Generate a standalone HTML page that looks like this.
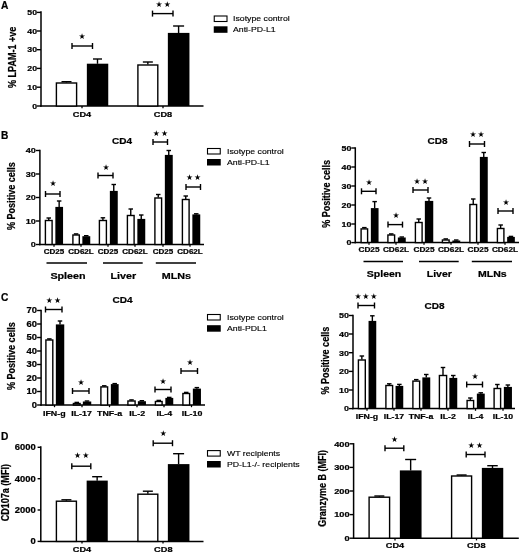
<!DOCTYPE html>
<html lang="en"><head><meta charset="utf-8"><title>Figure</title>
<style>html,body{margin:0;padding:0;background:#fff}svg{display:block;filter:blur(0.45px)}text{fill:#000}</style>
</head><body>
<svg width="520" height="553" viewBox="0 0 520 553">
<rect width="520" height="553" fill="#fff"/>
<text x="0" y="0" text-anchor="start" style="font-family:&quot;Liberation Sans&quot;,Arial,sans-serif;font-weight:bold;font-size:10.2px;stroke:#000;stroke-width:0.22px" transform="translate(1 9.2) scale(1 1)">A</text>
<line x1="41" y1="11.3" x2="41" y2="106.7" stroke="#000" stroke-width="1.5"/>
<line x1="37" y1="12.4" x2="41" y2="12.4" stroke="#000" stroke-width="1.4"/>
<text x="0" y="0" text-anchor="end" style="font-family:&quot;Liberation Sans&quot;,Arial,sans-serif;font-weight:bold;font-size:7.6px;stroke:#000;stroke-width:0.22px" transform="translate(37 15.14) scale(1.15 1)">50</text>
<line x1="37" y1="31" x2="41" y2="31" stroke="#000" stroke-width="1.4"/>
<text x="0" y="0" text-anchor="end" style="font-family:&quot;Liberation Sans&quot;,Arial,sans-serif;font-weight:bold;font-size:7.6px;stroke:#000;stroke-width:0.22px" transform="translate(37 33.74) scale(1.15 1)">40</text>
<line x1="37" y1="49.7" x2="41" y2="49.7" stroke="#000" stroke-width="1.4"/>
<text x="0" y="0" text-anchor="end" style="font-family:&quot;Liberation Sans&quot;,Arial,sans-serif;font-weight:bold;font-size:7.6px;stroke:#000;stroke-width:0.22px" transform="translate(37 52.44) scale(1.15 1)">30</text>
<line x1="37" y1="68.4" x2="41" y2="68.4" stroke="#000" stroke-width="1.4"/>
<text x="0" y="0" text-anchor="end" style="font-family:&quot;Liberation Sans&quot;,Arial,sans-serif;font-weight:bold;font-size:7.6px;stroke:#000;stroke-width:0.22px" transform="translate(37 71.14) scale(1.15 1)">20</text>
<line x1="37" y1="87.2" x2="41" y2="87.2" stroke="#000" stroke-width="1.4"/>
<text x="0" y="0" text-anchor="end" style="font-family:&quot;Liberation Sans&quot;,Arial,sans-serif;font-weight:bold;font-size:7.6px;stroke:#000;stroke-width:0.22px" transform="translate(37 89.94) scale(1.15 1)">10</text>
<line x1="37" y1="106" x2="41" y2="106" stroke="#000" stroke-width="1.4"/>
<text x="0" y="0" text-anchor="end" style="font-family:&quot;Liberation Sans&quot;,Arial,sans-serif;font-weight:bold;font-size:7.6px;stroke:#000;stroke-width:0.22px" transform="translate(37 108.74) scale(1.15 1)">0</text>
<line x1="40.3" y1="106" x2="203.5" y2="106" stroke="#000" stroke-width="1.5"/>
<line x1="82" y1="106" x2="82" y2="108.2" stroke="#000" stroke-width="1.3"/>
<line x1="163" y1="106" x2="163" y2="108.2" stroke="#000" stroke-width="1.3"/>
<line x1="66.5" y1="81.7" x2="66.5" y2="82.5" stroke="#000" stroke-width="1.4"/>
<line x1="61.5" y1="81.7" x2="71.5" y2="81.7" stroke="#000" stroke-width="1.4"/>
<rect x="56.4" y="83" width="20.2" height="23" fill="#fff" stroke="#000" stroke-width="1.4"/>
<line x1="97.5" y1="59" x2="97.5" y2="63.8" stroke="#000" stroke-width="1.4"/>
<line x1="93" y1="59" x2="102" y2="59" stroke="#000" stroke-width="1.4"/>
<rect x="86.85" y="63.7" width="21.4" height="42.3" fill="#000"/>
<line x1="147.85" y1="62" x2="147.85" y2="64.5" stroke="#000" stroke-width="1.4"/>
<line x1="142.85" y1="62" x2="152.85" y2="62" stroke="#000" stroke-width="1.4"/>
<rect x="137.9" y="65" width="19.9" height="41" fill="#fff" stroke="#000" stroke-width="1.4"/>
<line x1="178.6" y1="26" x2="178.6" y2="33" stroke="#000" stroke-width="1.4"/>
<line x1="173.1" y1="26" x2="184.1" y2="26" stroke="#000" stroke-width="1.4"/>
<rect x="167.85" y="32.9" width="21.6" height="73.1" fill="#000"/>
<line x1="72" y1="46" x2="92.5" y2="46" stroke="#000" stroke-width="1.4"/>
<line x1="72" y1="43" x2="72" y2="49" stroke="#000" stroke-width="1.4"/>
<line x1="92.5" y1="43" x2="92.5" y2="49" stroke="#000" stroke-width="1.4"/>
<text x="82" y="38.69" text-anchor="middle" style="font-family:&quot;DejaVu Sans&quot;,sans-serif;font-size:7.9px">&#9733;</text>
<line x1="152.5" y1="13.6" x2="173" y2="13.6" stroke="#000" stroke-width="1.4"/>
<line x1="152.5" y1="10.6" x2="152.5" y2="16.6" stroke="#000" stroke-width="1.4"/>
<line x1="173" y1="10.6" x2="173" y2="16.6" stroke="#000" stroke-width="1.4"/>
<text x="159" y="6.59" text-anchor="middle" style="font-family:&quot;DejaVu Sans&quot;,sans-serif;font-size:7.9px">&#9733;</text>
<text x="167.2" y="6.59" text-anchor="middle" style="font-family:&quot;DejaVu Sans&quot;,sans-serif;font-size:7.9px">&#9733;</text>
<text x="0" y="0" text-anchor="middle" style="font-family:&quot;Liberation Sans&quot;,Arial,sans-serif;font-weight:bold;font-size:8px;stroke:#000;stroke-width:0.22px" transform="translate(82 117) scale(1.15 1)">CD4</text>
<text x="0" y="0" text-anchor="middle" style="font-family:&quot;Liberation Sans&quot;,Arial,sans-serif;font-weight:bold;font-size:8px;stroke:#000;stroke-width:0.22px" transform="translate(163 117) scale(1.15 1)">CD8</text>
<text x="0" y="0" text-anchor="middle" style="font-family:&quot;Liberation Sans&quot;,Arial,sans-serif;font-weight:bold;font-size:10.4px;stroke:#000;stroke-width:0.22px" transform="translate(15.6 57.3) rotate(-90) scale(0.87 1)">% LPAM-1 +ve</text>
<rect x="214.25" y="16" width="12.75" height="5.5" fill="#fff" stroke="#000" stroke-width="1.1"/>
<rect x="213.75" y="26.3" width="13.75" height="6.5" fill="#000"/>
<text x="0" y="0" text-anchor="start" style="font-family:&quot;Liberation Sans&quot;,Arial,sans-serif;font-size:7.6px;stroke:#000;stroke-width:0.14px" transform="translate(233 21.4) scale(1.15 1)">Isotype control</text>
<text x="0" y="0" text-anchor="start" style="font-family:&quot;Liberation Sans&quot;,Arial,sans-serif;font-size:7.6px;stroke:#000;stroke-width:0.14px" transform="translate(233 32.2) scale(1.15 1)">Anti-PD-L1</text>
<text x="0" y="0" text-anchor="start" style="font-family:&quot;Liberation Sans&quot;,Arial,sans-serif;font-weight:bold;font-size:10.2px;stroke:#000;stroke-width:0.22px" transform="translate(1 138.6) scale(1 1)">B</text>
<line x1="39.9" y1="149.8" x2="39.9" y2="245.2" stroke="#000" stroke-width="1.5"/>
<line x1="35.9" y1="150.5" x2="39.9" y2="150.5" stroke="#000" stroke-width="1.4"/>
<text x="0" y="0" text-anchor="end" style="font-family:&quot;Liberation Sans&quot;,Arial,sans-serif;font-weight:bold;font-size:7.9px;stroke:#000;stroke-width:0.22px" transform="translate(35.9 153.34) scale(1.15 1)">40</text>
<line x1="35.9" y1="174" x2="39.9" y2="174" stroke="#000" stroke-width="1.4"/>
<text x="0" y="0" text-anchor="end" style="font-family:&quot;Liberation Sans&quot;,Arial,sans-serif;font-weight:bold;font-size:7.9px;stroke:#000;stroke-width:0.22px" transform="translate(35.9 176.84) scale(1.15 1)">30</text>
<line x1="35.9" y1="197.5" x2="39.9" y2="197.5" stroke="#000" stroke-width="1.4"/>
<text x="0" y="0" text-anchor="end" style="font-family:&quot;Liberation Sans&quot;,Arial,sans-serif;font-weight:bold;font-size:7.9px;stroke:#000;stroke-width:0.22px" transform="translate(35.9 200.34) scale(1.15 1)">20</text>
<line x1="35.9" y1="221" x2="39.9" y2="221" stroke="#000" stroke-width="1.4"/>
<text x="0" y="0" text-anchor="end" style="font-family:&quot;Liberation Sans&quot;,Arial,sans-serif;font-weight:bold;font-size:7.9px;stroke:#000;stroke-width:0.22px" transform="translate(35.9 223.84) scale(1.15 1)">10</text>
<line x1="35.9" y1="244.5" x2="39.9" y2="244.5" stroke="#000" stroke-width="1.4"/>
<text x="0" y="0" text-anchor="end" style="font-family:&quot;Liberation Sans&quot;,Arial,sans-serif;font-weight:bold;font-size:7.9px;stroke:#000;stroke-width:0.22px" transform="translate(35.9 247.34) scale(1.15 1)">0</text>
<line x1="39.2" y1="244.5" x2="204" y2="244.5" stroke="#000" stroke-width="1.5"/>
<line x1="54" y1="244.5" x2="54" y2="246.7" stroke="#000" stroke-width="1.3"/>
<line x1="81" y1="244.5" x2="81" y2="246.7" stroke="#000" stroke-width="1.3"/>
<line x1="108" y1="244.5" x2="108" y2="246.7" stroke="#000" stroke-width="1.3"/>
<line x1="135" y1="244.5" x2="135" y2="246.7" stroke="#000" stroke-width="1.3"/>
<line x1="163" y1="244.5" x2="163" y2="246.7" stroke="#000" stroke-width="1.3"/>
<line x1="190" y1="244.5" x2="190" y2="246.7" stroke="#000" stroke-width="1.3"/>
<line x1="48.75" y1="218" x2="48.75" y2="220" stroke="#000" stroke-width="1.4"/>
<line x1="46.5" y1="218" x2="51" y2="218" stroke="#000" stroke-width="1.4"/>
<rect x="45.4" y="220.5" width="6.7" height="24" fill="#fff" stroke="#000" stroke-width="1.4"/>
<line x1="59.15" y1="201" x2="59.15" y2="207" stroke="#000" stroke-width="1.4"/>
<line x1="56.9" y1="201" x2="61.4" y2="201" stroke="#000" stroke-width="1.4"/>
<rect x="55.35" y="206.9" width="7.7" height="37.6" fill="#000"/>
<line x1="76.1" y1="233.9" x2="76.1" y2="234.5" stroke="#000" stroke-width="1.4"/>
<line x1="73.85" y1="233.9" x2="78.35" y2="233.9" stroke="#000" stroke-width="1.4"/>
<rect x="72.9" y="235" width="6.4" height="9.5" fill="#fff" stroke="#000" stroke-width="1.4"/>
<line x1="86.25" y1="235.7" x2="86.25" y2="236.3" stroke="#000" stroke-width="1.4"/>
<line x1="84" y1="235.7" x2="88.5" y2="235.7" stroke="#000" stroke-width="1.4"/>
<rect x="82.35" y="236.2" width="7.9" height="8.3" fill="#000"/>
<line x1="102.9" y1="217.8" x2="102.9" y2="220" stroke="#000" stroke-width="1.4"/>
<line x1="100.65" y1="217.8" x2="105.15" y2="217.8" stroke="#000" stroke-width="1.4"/>
<rect x="99.4" y="220.5" width="7" height="24" fill="#fff" stroke="#000" stroke-width="1.4"/>
<line x1="113.75" y1="184.5" x2="113.75" y2="191" stroke="#000" stroke-width="1.4"/>
<line x1="111.5" y1="184.5" x2="116" y2="184.5" stroke="#000" stroke-width="1.4"/>
<rect x="109.85" y="190.9" width="7.9" height="53.6" fill="#000"/>
<line x1="130.75" y1="209" x2="130.75" y2="215" stroke="#000" stroke-width="1.4"/>
<line x1="128.5" y1="209" x2="133" y2="209" stroke="#000" stroke-width="1.4"/>
<rect x="127.4" y="215.5" width="6.7" height="29" fill="#fff" stroke="#000" stroke-width="1.4"/>
<line x1="141.25" y1="215" x2="141.25" y2="219" stroke="#000" stroke-width="1.4"/>
<line x1="139" y1="215" x2="143.5" y2="215" stroke="#000" stroke-width="1.4"/>
<rect x="137.35" y="218.9" width="7.9" height="25.6" fill="#000"/>
<line x1="158.25" y1="194.5" x2="158.25" y2="197.5" stroke="#000" stroke-width="1.4"/>
<line x1="156" y1="194.5" x2="160.5" y2="194.5" stroke="#000" stroke-width="1.4"/>
<rect x="154.9" y="198" width="6.7" height="46.5" fill="#fff" stroke="#000" stroke-width="1.4"/>
<line x1="168.75" y1="150.5" x2="168.75" y2="155" stroke="#000" stroke-width="1.4"/>
<line x1="166.5" y1="150.5" x2="171" y2="150.5" stroke="#000" stroke-width="1.4"/>
<rect x="164.85" y="154.9" width="7.9" height="89.6" fill="#000"/>
<line x1="185.75" y1="196" x2="185.75" y2="199" stroke="#000" stroke-width="1.4"/>
<line x1="183.5" y1="196" x2="188" y2="196" stroke="#000" stroke-width="1.4"/>
<rect x="182.4" y="199.5" width="6.7" height="45" fill="#fff" stroke="#000" stroke-width="1.4"/>
<line x1="196.25" y1="213.8" x2="196.25" y2="214.5" stroke="#000" stroke-width="1.4"/>
<line x1="194" y1="213.8" x2="198.5" y2="213.8" stroke="#000" stroke-width="1.4"/>
<rect x="192.35" y="214.4" width="7.9" height="30.1" fill="#000"/>
<line x1="45.5" y1="194" x2="60" y2="194" stroke="#000" stroke-width="1.4"/>
<line x1="45.5" y1="191" x2="45.5" y2="197" stroke="#000" stroke-width="1.4"/>
<line x1="60" y1="191" x2="60" y2="197" stroke="#000" stroke-width="1.4"/>
<text x="53" y="185.69" text-anchor="middle" style="font-family:&quot;DejaVu Sans&quot;,sans-serif;font-size:7.9px">&#9733;</text>
<line x1="98" y1="175.5" x2="113" y2="175.5" stroke="#000" stroke-width="1.4"/>
<line x1="98" y1="172.5" x2="98" y2="178.5" stroke="#000" stroke-width="1.4"/>
<line x1="113" y1="172.5" x2="113" y2="178.5" stroke="#000" stroke-width="1.4"/>
<text x="106" y="169.69" text-anchor="middle" style="font-family:&quot;DejaVu Sans&quot;,sans-serif;font-size:7.9px">&#9733;</text>
<line x1="153" y1="142" x2="167.5" y2="142" stroke="#000" stroke-width="1.4"/>
<line x1="153" y1="139" x2="153" y2="145" stroke="#000" stroke-width="1.4"/>
<line x1="167.5" y1="139" x2="167.5" y2="145" stroke="#000" stroke-width="1.4"/>
<text x="156.3" y="135.69" text-anchor="middle" style="font-family:&quot;DejaVu Sans&quot;,sans-serif;font-size:7.9px">&#9733;</text>
<text x="164.5" y="135.69" text-anchor="middle" style="font-family:&quot;DejaVu Sans&quot;,sans-serif;font-size:7.9px">&#9733;</text>
<line x1="186" y1="187" x2="200.5" y2="187" stroke="#000" stroke-width="1.4"/>
<line x1="186" y1="184" x2="186" y2="190" stroke="#000" stroke-width="1.4"/>
<line x1="200.5" y1="184" x2="200.5" y2="190" stroke="#000" stroke-width="1.4"/>
<text x="189.5" y="179.69" text-anchor="middle" style="font-family:&quot;DejaVu Sans&quot;,sans-serif;font-size:7.9px">&#9733;</text>
<text x="197.6" y="179.69" text-anchor="middle" style="font-family:&quot;DejaVu Sans&quot;,sans-serif;font-size:7.9px">&#9733;</text>
<text x="0" y="0" text-anchor="middle" style="font-family:&quot;Liberation Sans&quot;,Arial,sans-serif;font-weight:bold;font-size:7px;stroke:#000;stroke-width:0.22px" transform="translate(54 254.2) scale(1.15 1)">CD25</text>
<text x="0" y="0" text-anchor="middle" style="font-family:&quot;Liberation Sans&quot;,Arial,sans-serif;font-weight:bold;font-size:7px;stroke:#000;stroke-width:0.22px" transform="translate(81 254.2) scale(1.15 1)">CD62L</text>
<text x="0" y="0" text-anchor="middle" style="font-family:&quot;Liberation Sans&quot;,Arial,sans-serif;font-weight:bold;font-size:7px;stroke:#000;stroke-width:0.22px" transform="translate(108 254.2) scale(1.15 1)">CD25</text>
<text x="0" y="0" text-anchor="middle" style="font-family:&quot;Liberation Sans&quot;,Arial,sans-serif;font-weight:bold;font-size:7px;stroke:#000;stroke-width:0.22px" transform="translate(135 254.2) scale(1.15 1)">CD62L</text>
<text x="0" y="0" text-anchor="middle" style="font-family:&quot;Liberation Sans&quot;,Arial,sans-serif;font-weight:bold;font-size:7px;stroke:#000;stroke-width:0.22px" transform="translate(163 254.2) scale(1.15 1)">CD25</text>
<text x="0" y="0" text-anchor="middle" style="font-family:&quot;Liberation Sans&quot;,Arial,sans-serif;font-weight:bold;font-size:7px;stroke:#000;stroke-width:0.22px" transform="translate(190 254.2) scale(1.15 1)">CD62L</text>
<line x1="46.5" y1="263" x2="87" y2="263" stroke="#000" stroke-width="1.5"/>
<line x1="103" y1="263" x2="142.7" y2="263" stroke="#000" stroke-width="1.5"/>
<line x1="155.8" y1="263" x2="196" y2="263" stroke="#000" stroke-width="1.5"/>
<text x="0" y="0" text-anchor="middle" style="font-family:&quot;Liberation Sans&quot;,Arial,sans-serif;font-weight:bold;font-size:9.35px;stroke:#000;stroke-width:0.22px" transform="translate(68 278.6) scale(1.15 1)">Spleen</text>
<text x="0" y="0" text-anchor="middle" style="font-family:&quot;Liberation Sans&quot;,Arial,sans-serif;font-weight:bold;font-size:9.35px;stroke:#000;stroke-width:0.22px" transform="translate(123.3 278.6) scale(1.15 1)">Liver</text>
<text x="0" y="0" text-anchor="middle" style="font-family:&quot;Liberation Sans&quot;,Arial,sans-serif;font-weight:bold;font-size:9.35px;stroke:#000;stroke-width:0.22px" transform="translate(176.4 278.6) scale(1.15 1)">MLNs</text>
<text x="0" y="0" text-anchor="middle" style="font-family:&quot;Liberation Sans&quot;,Arial,sans-serif;font-weight:bold;font-size:8.7px;stroke:#000;stroke-width:0.22px" transform="translate(122 144.2) scale(1.15 1)">CD4</text>
<text x="0" y="0" text-anchor="middle" style="font-family:&quot;Liberation Sans&quot;,Arial,sans-serif;font-weight:bold;font-size:10.4px;stroke:#000;stroke-width:0.22px" transform="translate(15.4 196.1) rotate(-90) scale(0.87 1)">% Positive cells</text>
<rect x="207.5" y="148.5" width="12.75" height="5.5" fill="#fff" stroke="#000" stroke-width="1.1"/>
<rect x="207" y="159" width="13.75" height="6.5" fill="#000"/>
<text x="0" y="0" text-anchor="start" style="font-family:&quot;Liberation Sans&quot;,Arial,sans-serif;font-size:7.6px;stroke:#000;stroke-width:0.14px" transform="translate(227 153.9) scale(1.15 1)">Isotype control</text>
<text x="0" y="0" text-anchor="start" style="font-family:&quot;Liberation Sans&quot;,Arial,sans-serif;font-size:7.6px;stroke:#000;stroke-width:0.14px" transform="translate(227 164.9) scale(1.15 1)">Anti-PD-L1</text>
<line x1="355.3" y1="147.3" x2="355.3" y2="243.3" stroke="#000" stroke-width="1.5"/>
<line x1="351.3" y1="148" x2="355.3" y2="148" stroke="#000" stroke-width="1.4"/>
<text x="0" y="0" text-anchor="end" style="font-family:&quot;Liberation Sans&quot;,Arial,sans-serif;font-weight:bold;font-size:7.7px;stroke:#000;stroke-width:0.22px" transform="translate(351.3 150.77) scale(1.15 1)">50</text>
<line x1="351.3" y1="167" x2="355.3" y2="167" stroke="#000" stroke-width="1.4"/>
<text x="0" y="0" text-anchor="end" style="font-family:&quot;Liberation Sans&quot;,Arial,sans-serif;font-weight:bold;font-size:7.7px;stroke:#000;stroke-width:0.22px" transform="translate(351.3 169.77) scale(1.15 1)">40</text>
<line x1="351.3" y1="186" x2="355.3" y2="186" stroke="#000" stroke-width="1.4"/>
<text x="0" y="0" text-anchor="end" style="font-family:&quot;Liberation Sans&quot;,Arial,sans-serif;font-weight:bold;font-size:7.7px;stroke:#000;stroke-width:0.22px" transform="translate(351.3 188.77) scale(1.15 1)">30</text>
<line x1="351.3" y1="205" x2="355.3" y2="205" stroke="#000" stroke-width="1.4"/>
<text x="0" y="0" text-anchor="end" style="font-family:&quot;Liberation Sans&quot;,Arial,sans-serif;font-weight:bold;font-size:7.7px;stroke:#000;stroke-width:0.22px" transform="translate(351.3 207.77) scale(1.15 1)">20</text>
<line x1="351.3" y1="224" x2="355.3" y2="224" stroke="#000" stroke-width="1.4"/>
<text x="0" y="0" text-anchor="end" style="font-family:&quot;Liberation Sans&quot;,Arial,sans-serif;font-weight:bold;font-size:7.7px;stroke:#000;stroke-width:0.22px" transform="translate(351.3 226.77) scale(1.15 1)">10</text>
<line x1="351.3" y1="242.6" x2="355.3" y2="242.6" stroke="#000" stroke-width="1.4"/>
<text x="0" y="0" text-anchor="end" style="font-family:&quot;Liberation Sans&quot;,Arial,sans-serif;font-weight:bold;font-size:7.7px;stroke:#000;stroke-width:0.22px" transform="translate(351.3 245.37) scale(1.15 1)">0</text>
<line x1="354.8" y1="242.6" x2="519" y2="242.6" stroke="#000" stroke-width="1.5"/>
<line x1="369" y1="242.6" x2="369" y2="244.8" stroke="#000" stroke-width="1.3"/>
<line x1="396" y1="242.6" x2="396" y2="244.8" stroke="#000" stroke-width="1.3"/>
<line x1="424" y1="242.6" x2="424" y2="244.8" stroke="#000" stroke-width="1.3"/>
<line x1="451" y1="242.6" x2="451" y2="244.8" stroke="#000" stroke-width="1.3"/>
<line x1="478" y1="242.6" x2="478" y2="244.8" stroke="#000" stroke-width="1.3"/>
<line x1="505" y1="242.6" x2="505" y2="244.8" stroke="#000" stroke-width="1.3"/>
<line x1="364.35" y1="227.6" x2="364.35" y2="228.4" stroke="#000" stroke-width="1.4"/>
<line x1="362.1" y1="227.6" x2="366.6" y2="227.6" stroke="#000" stroke-width="1.4"/>
<rect x="361.1" y="228.9" width="6.5" height="13.7" fill="#fff" stroke="#000" stroke-width="1.4"/>
<line x1="374.65" y1="201.6" x2="374.65" y2="208.2" stroke="#000" stroke-width="1.4"/>
<line x1="372.4" y1="201.6" x2="376.9" y2="201.6" stroke="#000" stroke-width="1.4"/>
<rect x="370.85" y="208.1" width="7.7" height="34.5" fill="#000"/>
<line x1="391.25" y1="233.9" x2="391.25" y2="234.5" stroke="#000" stroke-width="1.4"/>
<line x1="389" y1="233.9" x2="393.5" y2="233.9" stroke="#000" stroke-width="1.4"/>
<rect x="387.9" y="235" width="6.7" height="7.6" fill="#fff" stroke="#000" stroke-width="1.4"/>
<line x1="401.75" y1="237" x2="401.75" y2="237.6" stroke="#000" stroke-width="1.4"/>
<line x1="399.5" y1="237" x2="404" y2="237" stroke="#000" stroke-width="1.4"/>
<rect x="397.85" y="237.5" width="7.9" height="5.1" fill="#000"/>
<line x1="418.75" y1="219" x2="418.75" y2="222" stroke="#000" stroke-width="1.4"/>
<line x1="416.5" y1="219" x2="421" y2="219" stroke="#000" stroke-width="1.4"/>
<rect x="415.4" y="222.5" width="6.7" height="20.1" fill="#fff" stroke="#000" stroke-width="1.4"/>
<line x1="429" y1="198" x2="429" y2="201" stroke="#000" stroke-width="1.4"/>
<line x1="426.75" y1="198" x2="431.25" y2="198" stroke="#000" stroke-width="1.4"/>
<rect x="424.85" y="200.9" width="8.4" height="41.7" fill="#000"/>
<line x1="445.75" y1="238.9" x2="445.75" y2="239.5" stroke="#000" stroke-width="1.4"/>
<line x1="443.5" y1="238.9" x2="448" y2="238.9" stroke="#000" stroke-width="1.4"/>
<rect x="442.4" y="240" width="6.7" height="2.6" fill="#fff" stroke="#000" stroke-width="1.4"/>
<line x1="456.25" y1="240" x2="456.25" y2="240.6" stroke="#000" stroke-width="1.4"/>
<line x1="454" y1="240" x2="458.5" y2="240" stroke="#000" stroke-width="1.4"/>
<rect x="452.35" y="240.5" width="7.9" height="2.1" fill="#000"/>
<line x1="473.25" y1="199" x2="473.25" y2="204" stroke="#000" stroke-width="1.4"/>
<line x1="471" y1="199" x2="475.5" y2="199" stroke="#000" stroke-width="1.4"/>
<rect x="469.9" y="204.5" width="6.7" height="38.1" fill="#fff" stroke="#000" stroke-width="1.4"/>
<line x1="483.75" y1="152.5" x2="483.75" y2="157" stroke="#000" stroke-width="1.4"/>
<line x1="481.5" y1="152.5" x2="486" y2="152.5" stroke="#000" stroke-width="1.4"/>
<rect x="479.85" y="156.9" width="7.9" height="85.7" fill="#000"/>
<line x1="500.65" y1="225" x2="500.65" y2="228" stroke="#000" stroke-width="1.4"/>
<line x1="498.4" y1="225" x2="502.9" y2="225" stroke="#000" stroke-width="1.4"/>
<rect x="497.4" y="228.5" width="6.5" height="14.1" fill="#fff" stroke="#000" stroke-width="1.4"/>
<line x1="510.95" y1="236.4" x2="510.95" y2="237" stroke="#000" stroke-width="1.4"/>
<line x1="508.7" y1="236.4" x2="513.2" y2="236.4" stroke="#000" stroke-width="1.4"/>
<rect x="507.15" y="236.9" width="7.7" height="5.7" fill="#000"/>
<line x1="361.5" y1="191.3" x2="376" y2="191.3" stroke="#000" stroke-width="1.4"/>
<line x1="361.5" y1="188.3" x2="361.5" y2="194.3" stroke="#000" stroke-width="1.4"/>
<line x1="376" y1="188.3" x2="376" y2="194.3" stroke="#000" stroke-width="1.4"/>
<text x="369" y="185.19" text-anchor="middle" style="font-family:&quot;DejaVu Sans&quot;,sans-serif;font-size:7.9px">&#9733;</text>
<line x1="388" y1="224.6" x2="402.5" y2="224.6" stroke="#000" stroke-width="1.4"/>
<line x1="388" y1="221.6" x2="388" y2="227.6" stroke="#000" stroke-width="1.4"/>
<line x1="402.5" y1="221.6" x2="402.5" y2="227.6" stroke="#000" stroke-width="1.4"/>
<text x="396" y="218.49" text-anchor="middle" style="font-family:&quot;DejaVu Sans&quot;,sans-serif;font-size:7.9px">&#9733;</text>
<line x1="413" y1="190" x2="428" y2="190" stroke="#000" stroke-width="1.4"/>
<line x1="413" y1="187" x2="413" y2="193" stroke="#000" stroke-width="1.4"/>
<line x1="428" y1="187" x2="428" y2="193" stroke="#000" stroke-width="1.4"/>
<text x="417" y="183.69" text-anchor="middle" style="font-family:&quot;DejaVu Sans&quot;,sans-serif;font-size:7.9px">&#9733;</text>
<text x="425" y="183.69" text-anchor="middle" style="font-family:&quot;DejaVu Sans&quot;,sans-serif;font-size:7.9px">&#9733;</text>
<line x1="469.5" y1="144" x2="484.5" y2="144" stroke="#000" stroke-width="1.4"/>
<line x1="469.5" y1="141" x2="469.5" y2="147" stroke="#000" stroke-width="1.4"/>
<line x1="484.5" y1="141" x2="484.5" y2="147" stroke="#000" stroke-width="1.4"/>
<text x="473" y="136.69" text-anchor="middle" style="font-family:&quot;DejaVu Sans&quot;,sans-serif;font-size:7.9px">&#9733;</text>
<text x="481" y="136.69" text-anchor="middle" style="font-family:&quot;DejaVu Sans&quot;,sans-serif;font-size:7.9px">&#9733;</text>
<line x1="498" y1="211" x2="513" y2="211" stroke="#000" stroke-width="1.4"/>
<line x1="498" y1="208" x2="498" y2="214" stroke="#000" stroke-width="1.4"/>
<line x1="513" y1="208" x2="513" y2="214" stroke="#000" stroke-width="1.4"/>
<text x="506" y="204.69" text-anchor="middle" style="font-family:&quot;DejaVu Sans&quot;,sans-serif;font-size:7.9px">&#9733;</text>
<text x="0" y="0" text-anchor="middle" style="font-family:&quot;Liberation Sans&quot;,Arial,sans-serif;font-weight:bold;font-size:7.2px;stroke:#000;stroke-width:0.22px" transform="translate(369 252) scale(1.15 1)">CD25</text>
<text x="0" y="0" text-anchor="middle" style="font-family:&quot;Liberation Sans&quot;,Arial,sans-serif;font-weight:bold;font-size:7.2px;stroke:#000;stroke-width:0.22px" transform="translate(396 252) scale(1.15 1)">CD62L</text>
<text x="0" y="0" text-anchor="middle" style="font-family:&quot;Liberation Sans&quot;,Arial,sans-serif;font-weight:bold;font-size:7.2px;stroke:#000;stroke-width:0.22px" transform="translate(424 252) scale(1.15 1)">CD25</text>
<text x="0" y="0" text-anchor="middle" style="font-family:&quot;Liberation Sans&quot;,Arial,sans-serif;font-weight:bold;font-size:7.2px;stroke:#000;stroke-width:0.22px" transform="translate(451 252) scale(1.15 1)">CD62L</text>
<text x="0" y="0" text-anchor="middle" style="font-family:&quot;Liberation Sans&quot;,Arial,sans-serif;font-weight:bold;font-size:7.2px;stroke:#000;stroke-width:0.22px" transform="translate(478 252) scale(1.15 1)">CD25</text>
<text x="0" y="0" text-anchor="middle" style="font-family:&quot;Liberation Sans&quot;,Arial,sans-serif;font-weight:bold;font-size:7.2px;stroke:#000;stroke-width:0.22px" transform="translate(505 252) scale(1.15 1)">CD62L</text>
<line x1="363.5" y1="261.4" x2="403" y2="261.4" stroke="#000" stroke-width="1.5"/>
<line x1="419" y1="261.4" x2="458.7" y2="261.4" stroke="#000" stroke-width="1.5"/>
<line x1="471.8" y1="261.4" x2="512" y2="261.4" stroke="#000" stroke-width="1.5"/>
<text x="0" y="0" text-anchor="middle" style="font-family:&quot;Liberation Sans&quot;,Arial,sans-serif;font-weight:bold;font-size:9.15px;stroke:#000;stroke-width:0.22px" transform="translate(384 277.2) scale(1.15 1)">Spleen</text>
<text x="0" y="0" text-anchor="middle" style="font-family:&quot;Liberation Sans&quot;,Arial,sans-serif;font-weight:bold;font-size:9.15px;stroke:#000;stroke-width:0.22px" transform="translate(439.3 277.2) scale(1.15 1)">Liver</text>
<text x="0" y="0" text-anchor="middle" style="font-family:&quot;Liberation Sans&quot;,Arial,sans-serif;font-weight:bold;font-size:9.15px;stroke:#000;stroke-width:0.22px" transform="translate(492.3 277.2) scale(1.15 1)">MLNs</text>
<text x="0" y="0" text-anchor="middle" style="font-family:&quot;Liberation Sans&quot;,Arial,sans-serif;font-weight:bold;font-size:8.7px;stroke:#000;stroke-width:0.22px" transform="translate(437.5 144.2) scale(1.15 1)">CD8</text>
<text x="0" y="0" text-anchor="middle" style="font-family:&quot;Liberation Sans&quot;,Arial,sans-serif;font-weight:bold;font-size:10.4px;stroke:#000;stroke-width:0.22px" transform="translate(330.1 193.9) rotate(-90) scale(0.87 1)">% Positive cells</text>
<text x="0" y="0" text-anchor="start" style="font-family:&quot;Liberation Sans&quot;,Arial,sans-serif;font-weight:bold;font-size:10.2px;stroke:#000;stroke-width:0.22px" transform="translate(1 301) scale(1 1)">C</text>
<line x1="41.1" y1="309.8" x2="41.1" y2="405.7" stroke="#000" stroke-width="1.5"/>
<line x1="37.1" y1="310.5" x2="41.1" y2="310.5" stroke="#000" stroke-width="1.4"/>
<text x="0" y="0" text-anchor="end" style="font-family:&quot;Liberation Sans&quot;,Arial,sans-serif;font-weight:bold;font-size:8.2px;stroke:#000;stroke-width:0.22px" transform="translate(37.1 313.45) scale(1.15 1)">70</text>
<line x1="37.1" y1="324" x2="41.1" y2="324" stroke="#000" stroke-width="1.4"/>
<text x="0" y="0" text-anchor="end" style="font-family:&quot;Liberation Sans&quot;,Arial,sans-serif;font-weight:bold;font-size:8.2px;stroke:#000;stroke-width:0.22px" transform="translate(37.1 326.95) scale(1.15 1)">60</text>
<line x1="37.1" y1="337.5" x2="41.1" y2="337.5" stroke="#000" stroke-width="1.4"/>
<text x="0" y="0" text-anchor="end" style="font-family:&quot;Liberation Sans&quot;,Arial,sans-serif;font-weight:bold;font-size:8.2px;stroke:#000;stroke-width:0.22px" transform="translate(37.1 340.45) scale(1.15 1)">50</text>
<line x1="37.1" y1="351" x2="41.1" y2="351" stroke="#000" stroke-width="1.4"/>
<text x="0" y="0" text-anchor="end" style="font-family:&quot;Liberation Sans&quot;,Arial,sans-serif;font-weight:bold;font-size:8.2px;stroke:#000;stroke-width:0.22px" transform="translate(37.1 353.95) scale(1.15 1)">40</text>
<line x1="37.1" y1="364.5" x2="41.1" y2="364.5" stroke="#000" stroke-width="1.4"/>
<text x="0" y="0" text-anchor="end" style="font-family:&quot;Liberation Sans&quot;,Arial,sans-serif;font-weight:bold;font-size:8.2px;stroke:#000;stroke-width:0.22px" transform="translate(37.1 367.45) scale(1.15 1)">30</text>
<line x1="37.1" y1="378" x2="41.1" y2="378" stroke="#000" stroke-width="1.4"/>
<text x="0" y="0" text-anchor="end" style="font-family:&quot;Liberation Sans&quot;,Arial,sans-serif;font-weight:bold;font-size:8.2px;stroke:#000;stroke-width:0.22px" transform="translate(37.1 380.95) scale(1.15 1)">20</text>
<line x1="37.1" y1="391.5" x2="41.1" y2="391.5" stroke="#000" stroke-width="1.4"/>
<text x="0" y="0" text-anchor="end" style="font-family:&quot;Liberation Sans&quot;,Arial,sans-serif;font-weight:bold;font-size:8.2px;stroke:#000;stroke-width:0.22px" transform="translate(37.1 394.45) scale(1.15 1)">10</text>
<line x1="37.1" y1="405" x2="41.1" y2="405" stroke="#000" stroke-width="1.4"/>
<text x="0" y="0" text-anchor="end" style="font-family:&quot;Liberation Sans&quot;,Arial,sans-serif;font-weight:bold;font-size:8.2px;stroke:#000;stroke-width:0.22px" transform="translate(37.1 407.95) scale(1.15 1)">0</text>
<line x1="40.3" y1="405" x2="205" y2="405" stroke="#000" stroke-width="1.5"/>
<line x1="54.5" y1="405" x2="54.5" y2="407.2" stroke="#000" stroke-width="1.3"/>
<line x1="82" y1="405" x2="82" y2="407.2" stroke="#000" stroke-width="1.3"/>
<line x1="109.5" y1="405" x2="109.5" y2="407.2" stroke="#000" stroke-width="1.3"/>
<line x1="137" y1="405" x2="137" y2="407.2" stroke="#000" stroke-width="1.3"/>
<line x1="164" y1="405" x2="164" y2="407.2" stroke="#000" stroke-width="1.3"/>
<line x1="191.5" y1="405" x2="191.5" y2="407.2" stroke="#000" stroke-width="1.3"/>
<line x1="49.35" y1="338.9" x2="49.35" y2="339.5" stroke="#000" stroke-width="1.4"/>
<line x1="47.1" y1="338.9" x2="51.6" y2="338.9" stroke="#000" stroke-width="1.4"/>
<rect x="45.9" y="340" width="6.9" height="65" fill="#fff" stroke="#000" stroke-width="1.4"/>
<line x1="60" y1="321" x2="60" y2="324.5" stroke="#000" stroke-width="1.4"/>
<line x1="57.75" y1="321" x2="62.25" y2="321" stroke="#000" stroke-width="1.4"/>
<rect x="55.85" y="324.4" width="8.4" height="80.6" fill="#000"/>
<line x1="76.75" y1="402.4" x2="76.75" y2="403" stroke="#000" stroke-width="1.4"/>
<line x1="74.5" y1="402.4" x2="79" y2="402.4" stroke="#000" stroke-width="1.4"/>
<rect x="73.4" y="403.5" width="6.7" height="1.5" fill="#fff" stroke="#000" stroke-width="1.4"/>
<line x1="87" y1="401" x2="87" y2="401.6" stroke="#000" stroke-width="1.4"/>
<line x1="84.75" y1="401" x2="89.25" y2="401" stroke="#000" stroke-width="1.4"/>
<rect x="82.85" y="401.5" width="8.4" height="3.5" fill="#000"/>
<line x1="104.25" y1="385.8" x2="104.25" y2="386.4" stroke="#000" stroke-width="1.4"/>
<line x1="102" y1="385.8" x2="106.5" y2="385.8" stroke="#000" stroke-width="1.4"/>
<rect x="100.9" y="386.9" width="6.7" height="18.1" fill="#fff" stroke="#000" stroke-width="1.4"/>
<line x1="114.7" y1="383.6" x2="114.7" y2="384.2" stroke="#000" stroke-width="1.4"/>
<line x1="112.45" y1="383.6" x2="116.95" y2="383.6" stroke="#000" stroke-width="1.4"/>
<rect x="110.85" y="384.1" width="7.8" height="20.9" fill="#000"/>
<line x1="131.5" y1="399.9" x2="131.5" y2="400.5" stroke="#000" stroke-width="1.4"/>
<line x1="129.25" y1="399.9" x2="133.75" y2="399.9" stroke="#000" stroke-width="1.4"/>
<rect x="127.9" y="401" width="7.2" height="4" fill="#fff" stroke="#000" stroke-width="1.4"/>
<line x1="141.85" y1="400.7" x2="141.85" y2="401.3" stroke="#000" stroke-width="1.4"/>
<line x1="139.6" y1="400.7" x2="144.1" y2="400.7" stroke="#000" stroke-width="1.4"/>
<rect x="137.85" y="401.2" width="8.1" height="3.8" fill="#000"/>
<line x1="158.75" y1="400.4" x2="158.75" y2="401" stroke="#000" stroke-width="1.4"/>
<line x1="156.5" y1="400.4" x2="161" y2="400.4" stroke="#000" stroke-width="1.4"/>
<rect x="155.4" y="401.5" width="6.7" height="3.5" fill="#fff" stroke="#000" stroke-width="1.4"/>
<line x1="169.25" y1="397.4" x2="169.25" y2="398" stroke="#000" stroke-width="1.4"/>
<line x1="167" y1="397.4" x2="171.5" y2="397.4" stroke="#000" stroke-width="1.4"/>
<rect x="165.35" y="397.9" width="7.9" height="7.1" fill="#000"/>
<line x1="186.25" y1="392.4" x2="186.25" y2="393" stroke="#000" stroke-width="1.4"/>
<line x1="184" y1="392.4" x2="188.5" y2="392.4" stroke="#000" stroke-width="1.4"/>
<rect x="182.9" y="393.5" width="6.7" height="11.5" fill="#fff" stroke="#000" stroke-width="1.4"/>
<line x1="196.85" y1="387.6" x2="196.85" y2="388.7" stroke="#000" stroke-width="1.4"/>
<line x1="194.6" y1="387.6" x2="199.1" y2="387.6" stroke="#000" stroke-width="1.4"/>
<rect x="192.85" y="388.6" width="8.1" height="16.4" fill="#000"/>
<line x1="45.5" y1="309.5" x2="62" y2="309.5" stroke="#000" stroke-width="1.4"/>
<line x1="45.5" y1="306.5" x2="45.5" y2="312.5" stroke="#000" stroke-width="1.4"/>
<line x1="62" y1="306.5" x2="62" y2="312.5" stroke="#000" stroke-width="1.4"/>
<text x="49.2" y="303.19" text-anchor="middle" style="font-family:&quot;DejaVu Sans&quot;,sans-serif;font-size:7.9px">&#9733;</text>
<text x="57.6" y="303.19" text-anchor="middle" style="font-family:&quot;DejaVu Sans&quot;,sans-serif;font-size:7.9px">&#9733;</text>
<line x1="72.5" y1="391" x2="89" y2="391" stroke="#000" stroke-width="1.4"/>
<line x1="72.5" y1="388" x2="72.5" y2="394" stroke="#000" stroke-width="1.4"/>
<line x1="89" y1="388" x2="89" y2="394" stroke="#000" stroke-width="1.4"/>
<text x="81" y="385.09" text-anchor="middle" style="font-family:&quot;DejaVu Sans&quot;,sans-serif;font-size:7.9px">&#9733;</text>
<line x1="155" y1="389.5" x2="171" y2="389.5" stroke="#000" stroke-width="1.4"/>
<line x1="155" y1="386.5" x2="155" y2="392.5" stroke="#000" stroke-width="1.4"/>
<line x1="171" y1="386.5" x2="171" y2="392.5" stroke="#000" stroke-width="1.4"/>
<text x="163" y="383.69" text-anchor="middle" style="font-family:&quot;DejaVu Sans&quot;,sans-serif;font-size:7.9px">&#9733;</text>
<line x1="181" y1="371" x2="197.5" y2="371" stroke="#000" stroke-width="1.4"/>
<line x1="181" y1="368" x2="181" y2="374" stroke="#000" stroke-width="1.4"/>
<line x1="197.5" y1="368" x2="197.5" y2="374" stroke="#000" stroke-width="1.4"/>
<text x="190" y="364.69" text-anchor="middle" style="font-family:&quot;DejaVu Sans&quot;,sans-serif;font-size:7.9px">&#9733;</text>
<text x="0" y="0" text-anchor="middle" style="font-family:&quot;Liberation Sans&quot;,Arial,sans-serif;font-weight:bold;font-size:7.7px;stroke:#000;stroke-width:0.22px" transform="translate(54.3 415.6) scale(1.15 1)">IFN-g</text>
<text x="0" y="0" text-anchor="middle" style="font-family:&quot;Liberation Sans&quot;,Arial,sans-serif;font-weight:bold;font-size:7.7px;stroke:#000;stroke-width:0.22px" transform="translate(81.5 415.6) scale(1.15 1)">IL-17</text>
<text x="0" y="0" text-anchor="middle" style="font-family:&quot;Liberation Sans&quot;,Arial,sans-serif;font-weight:bold;font-size:7.7px;stroke:#000;stroke-width:0.22px" transform="translate(109.6 415.6) scale(1.15 1)">TNF-a</text>
<text x="0" y="0" text-anchor="middle" style="font-family:&quot;Liberation Sans&quot;,Arial,sans-serif;font-weight:bold;font-size:7.7px;stroke:#000;stroke-width:0.22px" transform="translate(137.2 415.6) scale(1.15 1)">IL-2</text>
<text x="0" y="0" text-anchor="middle" style="font-family:&quot;Liberation Sans&quot;,Arial,sans-serif;font-weight:bold;font-size:7.7px;stroke:#000;stroke-width:0.22px" transform="translate(164.3 415.6) scale(1.15 1)">IL-4</text>
<text x="0" y="0" text-anchor="middle" style="font-family:&quot;Liberation Sans&quot;,Arial,sans-serif;font-weight:bold;font-size:7.7px;stroke:#000;stroke-width:0.22px" transform="translate(192 415.6) scale(1.15 1)">IL-10</text>
<text x="0" y="0" text-anchor="middle" style="font-family:&quot;Liberation Sans&quot;,Arial,sans-serif;font-weight:bold;font-size:8.7px;stroke:#000;stroke-width:0.22px" transform="translate(122.5 303.2) scale(1.15 1)">CD4</text>
<text x="0" y="0" text-anchor="middle" style="font-family:&quot;Liberation Sans&quot;,Arial,sans-serif;font-weight:bold;font-size:10.4px;stroke:#000;stroke-width:0.22px" transform="translate(15.4 356.2) rotate(-90) scale(0.87 1)">% Positive cells</text>
<rect x="207.5" y="314.5" width="12.75" height="5.5" fill="#fff" stroke="#000" stroke-width="1.1"/>
<rect x="207" y="325.2" width="13.75" height="6.5" fill="#000"/>
<text x="0" y="0" text-anchor="start" style="font-family:&quot;Liberation Sans&quot;,Arial,sans-serif;font-size:7.6px;stroke:#000;stroke-width:0.14px" transform="translate(227 319.9) scale(1.15 1)">Isotype control</text>
<text x="0" y="0" text-anchor="start" style="font-family:&quot;Liberation Sans&quot;,Arial,sans-serif;font-size:7.6px;stroke:#000;stroke-width:0.14px" transform="translate(227 331.1) scale(1.15 1)">Anti-PDL1</text>
<line x1="353" y1="314.8" x2="353" y2="409.3" stroke="#000" stroke-width="1.5"/>
<line x1="349" y1="315.5" x2="353" y2="315.5" stroke="#000" stroke-width="1.4"/>
<text x="0" y="0" text-anchor="end" style="font-family:&quot;Liberation Sans&quot;,Arial,sans-serif;font-weight:bold;font-size:7.8px;stroke:#000;stroke-width:0.22px" transform="translate(349 318.31) scale(1.15 1)">50</text>
<line x1="349" y1="334" x2="353" y2="334" stroke="#000" stroke-width="1.4"/>
<text x="0" y="0" text-anchor="end" style="font-family:&quot;Liberation Sans&quot;,Arial,sans-serif;font-weight:bold;font-size:7.8px;stroke:#000;stroke-width:0.22px" transform="translate(349 336.81) scale(1.15 1)">40</text>
<line x1="349" y1="352.7" x2="353" y2="352.7" stroke="#000" stroke-width="1.4"/>
<text x="0" y="0" text-anchor="end" style="font-family:&quot;Liberation Sans&quot;,Arial,sans-serif;font-weight:bold;font-size:7.8px;stroke:#000;stroke-width:0.22px" transform="translate(349 355.51) scale(1.15 1)">30</text>
<line x1="349" y1="371.4" x2="353" y2="371.4" stroke="#000" stroke-width="1.4"/>
<text x="0" y="0" text-anchor="end" style="font-family:&quot;Liberation Sans&quot;,Arial,sans-serif;font-weight:bold;font-size:7.8px;stroke:#000;stroke-width:0.22px" transform="translate(349 374.21) scale(1.15 1)">20</text>
<line x1="349" y1="390" x2="353" y2="390" stroke="#000" stroke-width="1.4"/>
<text x="0" y="0" text-anchor="end" style="font-family:&quot;Liberation Sans&quot;,Arial,sans-serif;font-weight:bold;font-size:7.8px;stroke:#000;stroke-width:0.22px" transform="translate(349 392.81) scale(1.15 1)">10</text>
<line x1="349" y1="408.6" x2="353" y2="408.6" stroke="#000" stroke-width="1.4"/>
<text x="0" y="0" text-anchor="end" style="font-family:&quot;Liberation Sans&quot;,Arial,sans-serif;font-weight:bold;font-size:7.8px;stroke:#000;stroke-width:0.22px" transform="translate(349 411.41) scale(1.15 1)">0</text>
<line x1="352.3" y1="408.6" x2="515" y2="408.6" stroke="#000" stroke-width="1.5"/>
<line x1="367" y1="408.6" x2="367" y2="410.8" stroke="#000" stroke-width="1.3"/>
<line x1="394" y1="408.6" x2="394" y2="410.8" stroke="#000" stroke-width="1.3"/>
<line x1="421" y1="408.6" x2="421" y2="410.8" stroke="#000" stroke-width="1.3"/>
<line x1="448" y1="408.6" x2="448" y2="410.8" stroke="#000" stroke-width="1.3"/>
<line x1="475.5" y1="408.6" x2="475.5" y2="410.8" stroke="#000" stroke-width="1.3"/>
<line x1="503" y1="408.6" x2="503" y2="410.8" stroke="#000" stroke-width="1.3"/>
<line x1="361.85" y1="356" x2="361.85" y2="359.5" stroke="#000" stroke-width="1.4"/>
<line x1="359.6" y1="356" x2="364.1" y2="356" stroke="#000" stroke-width="1.4"/>
<rect x="358.4" y="360" width="6.9" height="48.6" fill="#fff" stroke="#000" stroke-width="1.4"/>
<line x1="372.35" y1="315.8" x2="372.35" y2="321" stroke="#000" stroke-width="1.4"/>
<line x1="370.1" y1="315.8" x2="374.6" y2="315.8" stroke="#000" stroke-width="1.4"/>
<rect x="368.55" y="320.9" width="7.7" height="87.7" fill="#000"/>
<line x1="389.25" y1="383.8" x2="389.25" y2="385" stroke="#000" stroke-width="1.4"/>
<line x1="387" y1="383.8" x2="391.5" y2="383.8" stroke="#000" stroke-width="1.4"/>
<rect x="385.9" y="385.5" width="6.7" height="23.1" fill="#fff" stroke="#000" stroke-width="1.4"/>
<line x1="399.35" y1="384.4" x2="399.35" y2="386" stroke="#000" stroke-width="1.4"/>
<line x1="397.1" y1="384.4" x2="401.6" y2="384.4" stroke="#000" stroke-width="1.4"/>
<rect x="395.55" y="385.9" width="7.7" height="22.7" fill="#000"/>
<line x1="416.25" y1="379.6" x2="416.25" y2="380.6" stroke="#000" stroke-width="1.4"/>
<line x1="414" y1="379.6" x2="418.5" y2="379.6" stroke="#000" stroke-width="1.4"/>
<rect x="412.9" y="381.1" width="6.7" height="27.5" fill="#fff" stroke="#000" stroke-width="1.4"/>
<line x1="426.25" y1="374.5" x2="426.25" y2="377.5" stroke="#000" stroke-width="1.4"/>
<line x1="424" y1="374.5" x2="428.5" y2="374.5" stroke="#000" stroke-width="1.4"/>
<rect x="422.35" y="377.4" width="7.9" height="31.2" fill="#000"/>
<line x1="443" y1="367.5" x2="443" y2="375" stroke="#000" stroke-width="1.4"/>
<line x1="440.75" y1="367.5" x2="445.25" y2="367.5" stroke="#000" stroke-width="1.4"/>
<rect x="439.4" y="375.5" width="7.2" height="33.1" fill="#fff" stroke="#000" stroke-width="1.4"/>
<line x1="453.25" y1="375.5" x2="453.25" y2="378" stroke="#000" stroke-width="1.4"/>
<line x1="451" y1="375.5" x2="455.5" y2="375.5" stroke="#000" stroke-width="1.4"/>
<rect x="449.35" y="377.9" width="7.9" height="30.7" fill="#000"/>
<line x1="470.35" y1="398" x2="470.35" y2="400" stroke="#000" stroke-width="1.4"/>
<line x1="468.1" y1="398" x2="472.6" y2="398" stroke="#000" stroke-width="1.4"/>
<rect x="467.1" y="400.5" width="6.5" height="8.1" fill="#fff" stroke="#000" stroke-width="1.4"/>
<line x1="480.75" y1="392.8" x2="480.75" y2="393.7" stroke="#000" stroke-width="1.4"/>
<line x1="478.5" y1="392.8" x2="483" y2="392.8" stroke="#000" stroke-width="1.4"/>
<rect x="476.85" y="393.6" width="7.9" height="15" fill="#000"/>
<line x1="497.35" y1="384.5" x2="497.35" y2="388" stroke="#000" stroke-width="1.4"/>
<line x1="495.1" y1="384.5" x2="499.6" y2="384.5" stroke="#000" stroke-width="1.4"/>
<rect x="494.1" y="388.5" width="6.5" height="20.1" fill="#fff" stroke="#000" stroke-width="1.4"/>
<line x1="507.85" y1="385" x2="507.85" y2="387" stroke="#000" stroke-width="1.4"/>
<line x1="505.6" y1="385" x2="510.1" y2="385" stroke="#000" stroke-width="1.4"/>
<rect x="503.85" y="386.9" width="8.1" height="21.7" fill="#000"/>
<line x1="358" y1="305.5" x2="374.5" y2="305.5" stroke="#000" stroke-width="1.4"/>
<line x1="358" y1="302.5" x2="358" y2="308.5" stroke="#000" stroke-width="1.4"/>
<line x1="374.5" y1="302.5" x2="374.5" y2="308.5" stroke="#000" stroke-width="1.4"/>
<text x="358" y="298.89" text-anchor="middle" style="font-family:&quot;DejaVu Sans&quot;,sans-serif;font-size:7.9px">&#9733;</text>
<text x="365.8" y="298.89" text-anchor="middle" style="font-family:&quot;DejaVu Sans&quot;,sans-serif;font-size:7.9px">&#9733;</text>
<text x="373.8" y="298.89" text-anchor="middle" style="font-family:&quot;DejaVu Sans&quot;,sans-serif;font-size:7.9px">&#9733;</text>
<line x1="466.7" y1="384.5" x2="482.5" y2="384.5" stroke="#000" stroke-width="1.4"/>
<line x1="466.7" y1="381.5" x2="466.7" y2="387.5" stroke="#000" stroke-width="1.4"/>
<line x1="482.5" y1="381.5" x2="482.5" y2="387.5" stroke="#000" stroke-width="1.4"/>
<text x="475" y="378.69" text-anchor="middle" style="font-family:&quot;DejaVu Sans&quot;,sans-serif;font-size:7.9px">&#9733;</text>
<text x="0" y="0" text-anchor="middle" style="font-family:&quot;Liberation Sans&quot;,Arial,sans-serif;font-weight:bold;font-size:7.6px;stroke:#000;stroke-width:0.22px" transform="translate(367 419.1) scale(1.15 1)">IFN-g</text>
<text x="0" y="0" text-anchor="middle" style="font-family:&quot;Liberation Sans&quot;,Arial,sans-serif;font-weight:bold;font-size:7.6px;stroke:#000;stroke-width:0.22px" transform="translate(394 419.1) scale(1.15 1)">IL-17</text>
<text x="0" y="0" text-anchor="middle" style="font-family:&quot;Liberation Sans&quot;,Arial,sans-serif;font-weight:bold;font-size:7.6px;stroke:#000;stroke-width:0.22px" transform="translate(421 419.1) scale(1.15 1)">TNF-a</text>
<text x="0" y="0" text-anchor="middle" style="font-family:&quot;Liberation Sans&quot;,Arial,sans-serif;font-weight:bold;font-size:7.6px;stroke:#000;stroke-width:0.22px" transform="translate(448 419.1) scale(1.15 1)">IL-2</text>
<text x="0" y="0" text-anchor="middle" style="font-family:&quot;Liberation Sans&quot;,Arial,sans-serif;font-weight:bold;font-size:7.6px;stroke:#000;stroke-width:0.22px" transform="translate(475.5 419.1) scale(1.15 1)">IL-4</text>
<text x="0" y="0" text-anchor="middle" style="font-family:&quot;Liberation Sans&quot;,Arial,sans-serif;font-weight:bold;font-size:7.6px;stroke:#000;stroke-width:0.22px" transform="translate(503 419.1) scale(1.15 1)">IL-10</text>
<text x="0" y="0" text-anchor="middle" style="font-family:&quot;Liberation Sans&quot;,Arial,sans-serif;font-weight:bold;font-size:8.7px;stroke:#000;stroke-width:0.22px" transform="translate(434.5 309.2) scale(1.15 1)">CD8</text>
<text x="0" y="0" text-anchor="middle" style="font-family:&quot;Liberation Sans&quot;,Arial,sans-serif;font-weight:bold;font-size:10.4px;stroke:#000;stroke-width:0.22px" transform="translate(329.2 360.7) rotate(-90) scale(0.87 1)">% Positive cells</text>
<text x="0" y="0" text-anchor="start" style="font-family:&quot;Liberation Sans&quot;,Arial,sans-serif;font-weight:bold;font-size:10.2px;stroke:#000;stroke-width:0.22px" transform="translate(1 439.5) scale(1 1)">D</text>
<line x1="40.8" y1="446.3" x2="40.8" y2="542.1" stroke="#000" stroke-width="1.5"/>
<line x1="37.6" y1="447.3" x2="40.8" y2="447.3" stroke="#000" stroke-width="1.4"/>
<text x="0" y="0" text-anchor="end" style="font-family:&quot;Liberation Sans&quot;,Arial,sans-serif;font-weight:bold;font-size:8.2px;stroke:#000;stroke-width:0.22px" transform="translate(35.8 450.25) scale(1.15 1)">6000</text>
<line x1="37.6" y1="478.7" x2="40.8" y2="478.7" stroke="#000" stroke-width="1.4"/>
<text x="0" y="0" text-anchor="end" style="font-family:&quot;Liberation Sans&quot;,Arial,sans-serif;font-weight:bold;font-size:8.2px;stroke:#000;stroke-width:0.22px" transform="translate(35.8 481.65) scale(1.15 1)">4000</text>
<line x1="37.6" y1="510" x2="40.8" y2="510" stroke="#000" stroke-width="1.4"/>
<text x="0" y="0" text-anchor="end" style="font-family:&quot;Liberation Sans&quot;,Arial,sans-serif;font-weight:bold;font-size:8.2px;stroke:#000;stroke-width:0.22px" transform="translate(35.8 512.95) scale(1.15 1)">2000</text>
<line x1="37.6" y1="541.4" x2="40.8" y2="541.4" stroke="#000" stroke-width="1.4"/>
<text x="0" y="0" text-anchor="end" style="font-family:&quot;Liberation Sans&quot;,Arial,sans-serif;font-weight:bold;font-size:8.2px;stroke:#000;stroke-width:0.22px" transform="translate(35.8 544.35) scale(1.15 1)">0</text>
<line x1="40.3" y1="541.4" x2="203.5" y2="541.4" stroke="#000" stroke-width="1.5"/>
<line x1="82" y1="541.4" x2="82" y2="543.6" stroke="#000" stroke-width="1.3"/>
<line x1="163" y1="541.4" x2="163" y2="543.6" stroke="#000" stroke-width="1.3"/>
<line x1="66.4" y1="499.8" x2="66.4" y2="500.7" stroke="#000" stroke-width="1.4"/>
<line x1="61.4" y1="499.8" x2="71.4" y2="499.8" stroke="#000" stroke-width="1.4"/>
<rect x="56.4" y="501.2" width="20" height="40.2" fill="#fff" stroke="#000" stroke-width="1.4"/>
<line x1="97.15" y1="476.7" x2="97.15" y2="480.7" stroke="#000" stroke-width="1.4"/>
<line x1="92.15" y1="476.7" x2="102.15" y2="476.7" stroke="#000" stroke-width="1.4"/>
<rect x="86.65" y="480.6" width="21.1" height="60.8" fill="#000"/>
<line x1="147.85" y1="491.2" x2="147.85" y2="493.7" stroke="#000" stroke-width="1.4"/>
<line x1="142.85" y1="491.2" x2="152.85" y2="491.2" stroke="#000" stroke-width="1.4"/>
<rect x="137.9" y="494.2" width="19.9" height="47.2" fill="#fff" stroke="#000" stroke-width="1.4"/>
<line x1="178.6" y1="453.7" x2="178.6" y2="464.2" stroke="#000" stroke-width="1.4"/>
<line x1="173.1" y1="453.7" x2="184.1" y2="453.7" stroke="#000" stroke-width="1.4"/>
<rect x="167.85" y="464.1" width="21.6" height="77.3" fill="#000"/>
<line x1="71.8" y1="466.2" x2="90.8" y2="466.2" stroke="#000" stroke-width="1.4"/>
<line x1="71.8" y1="463.2" x2="71.8" y2="469.2" stroke="#000" stroke-width="1.4"/>
<line x1="90.8" y1="463.2" x2="90.8" y2="469.2" stroke="#000" stroke-width="1.4"/>
<text x="77.6" y="458.19" text-anchor="middle" style="font-family:&quot;DejaVu Sans&quot;,sans-serif;font-size:7.9px">&#9733;</text>
<text x="85.8" y="458.19" text-anchor="middle" style="font-family:&quot;DejaVu Sans&quot;,sans-serif;font-size:7.9px">&#9733;</text>
<line x1="153.2" y1="443.2" x2="172.5" y2="443.2" stroke="#000" stroke-width="1.4"/>
<line x1="153.2" y1="440.2" x2="153.2" y2="446.2" stroke="#000" stroke-width="1.4"/>
<line x1="172.5" y1="440.2" x2="172.5" y2="446.2" stroke="#000" stroke-width="1.4"/>
<text x="163.2" y="436.49" text-anchor="middle" style="font-family:&quot;DejaVu Sans&quot;,sans-serif;font-size:7.9px">&#9733;</text>
<text x="0" y="0" text-anchor="middle" style="font-family:&quot;Liberation Sans&quot;,Arial,sans-serif;font-weight:bold;font-size:8px;stroke:#000;stroke-width:0.22px" transform="translate(82 551.8) scale(1.15 1)">CD4</text>
<text x="0" y="0" text-anchor="middle" style="font-family:&quot;Liberation Sans&quot;,Arial,sans-serif;font-weight:bold;font-size:8px;stroke:#000;stroke-width:0.22px" transform="translate(163.3 551.8) scale(1.15 1)">CD8</text>
<text x="0" y="0" text-anchor="middle" style="font-family:&quot;Liberation Sans&quot;,Arial,sans-serif;font-weight:bold;font-size:10.4px;stroke:#000;stroke-width:0.22px" transform="translate(9.2 492.7) rotate(-90) scale(0.87 1)">CD107a (MFI)</text>
<rect x="207.5" y="450.6" width="12.75" height="5.5" fill="#fff" stroke="#000" stroke-width="1.1"/>
<rect x="207" y="461" width="13.75" height="6.5" fill="#000"/>
<text x="0" y="0" text-anchor="start" style="font-family:&quot;Liberation Sans&quot;,Arial,sans-serif;font-size:7.6px;stroke:#000;stroke-width:0.14px" transform="translate(227 456) scale(1.15 1)">WT recipients</text>
<text x="0" y="0" text-anchor="start" style="font-family:&quot;Liberation Sans&quot;,Arial,sans-serif;font-size:7.6px;stroke:#000;stroke-width:0.14px" transform="translate(227 466.9) scale(1.15 1)">PD-L1-/- recipients</text>
<line x1="353.6" y1="443.1" x2="353.6" y2="538.9" stroke="#000" stroke-width="1.5"/>
<line x1="349.6" y1="443.8" x2="353.6" y2="443.8" stroke="#000" stroke-width="1.4"/>
<text x="0" y="0" text-anchor="end" style="font-family:&quot;Liberation Sans&quot;,Arial,sans-serif;font-weight:bold;font-size:8px;stroke:#000;stroke-width:0.22px" transform="translate(349.6 446.68) scale(1.15 1)">400</text>
<line x1="349.6" y1="467.4" x2="353.6" y2="467.4" stroke="#000" stroke-width="1.4"/>
<text x="0" y="0" text-anchor="end" style="font-family:&quot;Liberation Sans&quot;,Arial,sans-serif;font-weight:bold;font-size:8px;stroke:#000;stroke-width:0.22px" transform="translate(349.6 470.28) scale(1.15 1)">300</text>
<line x1="349.6" y1="491" x2="353.6" y2="491" stroke="#000" stroke-width="1.4"/>
<text x="0" y="0" text-anchor="end" style="font-family:&quot;Liberation Sans&quot;,Arial,sans-serif;font-weight:bold;font-size:8px;stroke:#000;stroke-width:0.22px" transform="translate(349.6 493.88) scale(1.15 1)">200</text>
<line x1="349.6" y1="514.6" x2="353.6" y2="514.6" stroke="#000" stroke-width="1.4"/>
<text x="0" y="0" text-anchor="end" style="font-family:&quot;Liberation Sans&quot;,Arial,sans-serif;font-weight:bold;font-size:8px;stroke:#000;stroke-width:0.22px" transform="translate(349.6 517.48) scale(1.15 1)">100</text>
<line x1="349.6" y1="538.2" x2="353.6" y2="538.2" stroke="#000" stroke-width="1.4"/>
<text x="0" y="0" text-anchor="end" style="font-family:&quot;Liberation Sans&quot;,Arial,sans-serif;font-weight:bold;font-size:8px;stroke:#000;stroke-width:0.22px" transform="translate(349.6 541.08) scale(1.15 1)">0</text>
<line x1="353" y1="538.2" x2="518.8" y2="538.2" stroke="#000" stroke-width="1.5"/>
<line x1="395" y1="538.2" x2="395" y2="540.4" stroke="#000" stroke-width="1.3"/>
<line x1="476.5" y1="538.2" x2="476.5" y2="540.4" stroke="#000" stroke-width="1.3"/>
<line x1="379.35" y1="496" x2="379.35" y2="496.7" stroke="#000" stroke-width="1.4"/>
<line x1="374.35" y1="496" x2="384.35" y2="496" stroke="#000" stroke-width="1.4"/>
<rect x="369.1" y="497.2" width="20.5" height="41" fill="#fff" stroke="#000" stroke-width="1.4"/>
<line x1="410.65" y1="459.5" x2="410.65" y2="470.5" stroke="#000" stroke-width="1.4"/>
<line x1="405.15" y1="459.5" x2="416.15" y2="459.5" stroke="#000" stroke-width="1.4"/>
<rect x="399.85" y="470.4" width="21.7" height="67.8" fill="#000"/>
<line x1="461.6" y1="475" x2="461.6" y2="475.5" stroke="#000" stroke-width="1.4"/>
<line x1="456.6" y1="475" x2="466.6" y2="475" stroke="#000" stroke-width="1.4"/>
<rect x="451.6" y="476" width="20" height="62.2" fill="#fff" stroke="#000" stroke-width="1.4"/>
<line x1="492.5" y1="465.7" x2="492.5" y2="468" stroke="#000" stroke-width="1.4"/>
<line x1="487.25" y1="465.7" x2="497.75" y2="465.7" stroke="#000" stroke-width="1.4"/>
<rect x="481.85" y="467.9" width="21.4" height="70.3" fill="#000"/>
<line x1="385" y1="448.2" x2="403.8" y2="448.2" stroke="#000" stroke-width="1.4"/>
<line x1="385" y1="445.2" x2="385" y2="451.2" stroke="#000" stroke-width="1.4"/>
<line x1="403.8" y1="445.2" x2="403.8" y2="451.2" stroke="#000" stroke-width="1.4"/>
<text x="394.5" y="441.99" text-anchor="middle" style="font-family:&quot;DejaVu Sans&quot;,sans-serif;font-size:7.9px">&#9733;</text>
<line x1="466.2" y1="454.5" x2="485" y2="454.5" stroke="#000" stroke-width="1.4"/>
<line x1="466.2" y1="451.5" x2="466.2" y2="457.5" stroke="#000" stroke-width="1.4"/>
<line x1="485" y1="451.5" x2="485" y2="457.5" stroke="#000" stroke-width="1.4"/>
<text x="471.3" y="448.19" text-anchor="middle" style="font-family:&quot;DejaVu Sans&quot;,sans-serif;font-size:7.9px">&#9733;</text>
<text x="479.6" y="448.19" text-anchor="middle" style="font-family:&quot;DejaVu Sans&quot;,sans-serif;font-size:7.9px">&#9733;</text>
<text x="0" y="0" text-anchor="middle" style="font-family:&quot;Liberation Sans&quot;,Arial,sans-serif;font-weight:bold;font-size:8px;stroke:#000;stroke-width:0.22px" transform="translate(395 548.2) scale(1.15 1)">CD4</text>
<text x="0" y="0" text-anchor="middle" style="font-family:&quot;Liberation Sans&quot;,Arial,sans-serif;font-weight:bold;font-size:8px;stroke:#000;stroke-width:0.22px" transform="translate(476.3 548.2) scale(1.15 1)">CD8</text>
<text x="0" y="0" text-anchor="middle" style="font-family:&quot;Liberation Sans&quot;,Arial,sans-serif;font-weight:bold;font-size:10.4px;stroke:#000;stroke-width:0.22px" transform="translate(325.5 488.3) rotate(-90) scale(0.87 1)">Granzyme B (MFI)</text>
</svg>
</body></html>
